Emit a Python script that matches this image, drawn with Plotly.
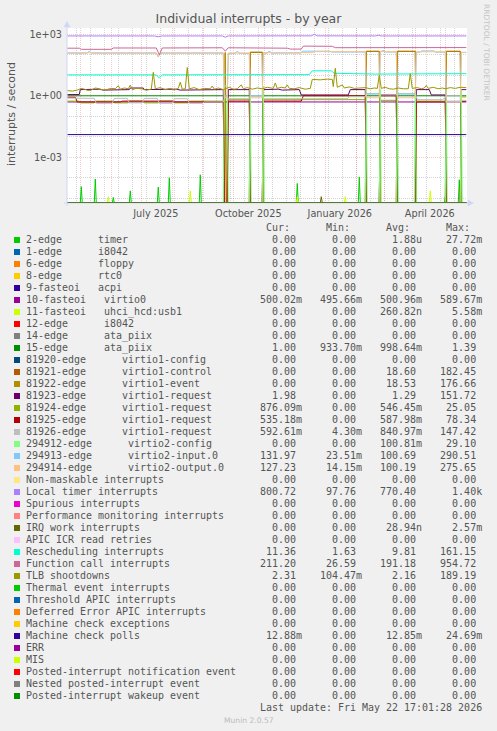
import plotly.graph_objects as go
import pandas as pd

X_START = '2025-04-17 17:00'
X_END = '2026-05-22 17:00'

# ---------------- legend data ----------------
labels = [
    '2-edge      timer', '1-edge      i8042', '6-edge      floppy', '8-edge      rtc0',
    '9-fasteoi   acpi', '10-fasteoi   virtio0', '11-fasteoi   uhci_hcd:usb1',
    '12-edge      i8042', '14-edge      ata_piix', '15-edge      ata_piix',
    '81920-edge      virtio1-config', '81921-edge      virtio1-control',
    '81922-edge      virtio1-event', '81923-edge      virtio1-request',
    '81924-edge      virtio1-request', '81925-edge      virtio1-request',
    '81926-edge      virtio1-request', '294912-edge      virtio2-config',
    '294913-edge      virtio2-input.0', '294914-edge      virtio2-output.0',
    'Non-maskable interrupts', 'Local timer interrupts', 'Spurious interrupts',
    'Performance monitoring interrupts', 'IRQ work interrupts', 'APIC ICR read retries',
    'Rescheduling interrupts', 'Function call interrupts', 'TLB shootdowns',
    'Thermal event interrupts', 'Threshold APIC interrupts',
    'Deferred Error APIC interrupts', 'Machine check exceptions', 'Machine check polls',
    'ERR', 'MIS', 'Posted-interrupt notification event', 'Nested posted-interrupt event',
    'Posted-interrupt wakeup event']

colors = [
    '#00CC00', '#0066B3', '#FF8000', '#FFCC00', '#330099', '#990099', '#CCFF00',
    '#FF0000', '#808080', '#008F00', '#00487D', '#B35A00', '#B38F00', '#6B006B',
    '#8FB300', '#B30000', '#BEBEBE', '#80FF80', '#80C9FF', '#FFC080', '#FFE680',
    '#AA80FF', '#EE00CC', '#FF8080', '#666600', '#FFBFFF', '#00FFCC', '#CC6699',
    '#999900', '#00CC00', '#0066B3', '#FF8000', '#FFCC00', '#330099', '#990099',
    '#CCFF00', '#FF0000', '#808080', '#008F00']

cur_vals = ['0.00', '0.00', '0.00', '0.00', '0.00', '500.02m', '0.00', '0.00', '0.00', '1.00',
            '0.00', '0.00', '0.00', '1.98', '876.09m', '535.18m', '592.61m', '0.00', '131.97',
            '127.23', '0.00', '800.72', '0.00', '0.00', '0.00', '0.00', '11.36', '211.20',
            '2.31', '0.00', '0.00', '0.00', '0.00', '12.88m', '0.00', '0.00', '0.00', '0.00',
            '0.00']
min_vals = ['0.00', '0.00', '0.00', '0.00', '0.00', '495.66m', '0.00', '0.00', '0.00',
            '933.70m', '0.00', '0.00', '0.00', '0.00', '0.00', '0.00', '4.30m', '0.00',
            '23.51m', '14.15m', '0.00', '97.76', '0.00', '0.00', '0.00', '0.00', '1.63',
            '26.59', '104.47m', '0.00', '0.00', '0.00', '0.00', '0.00', '0.00', '0.00',
            '0.00', '0.00', '0.00']
avg_vals = ['1.88u', '0.00', '0.00', '0.00', '0.00', '500.96m', '260.82n', '0.00', '0.00',
            '998.64m', '0.00', '18.60', '18.53', '1.29', '546.45m', '587.98m', '840.97m',
            '100.81m', '100.69', '100.19', '0.00', '770.40', '0.00', '0.00', '28.94n', '0.00',
            '9.81', '191.18', '2.16', '0.00', '0.00', '0.00', '0.00', '12.85m', '0.00',
            '0.00', '0.00', '0.00', '0.00']
max_vals = ['27.72m', '0.00', '0.00', '0.00', '0.00', '589.67m', '5.58m', '0.00', '0.00',
            '1.39', '0.00', '182.45', '176.66', '151.72', '25.05', '78.34', '147.42', '29.10',
            '290.51', '275.65', '0.00', '1.40k', '0.00', '0.00', '2.57m', '0.00', '161.15',
            '954.72', '189.19', '0.00', '0.00', '0.00', '0.00', '24.69m', '0.00', '0.00',
            '0.00', '0.00', '0.00']

last_update = 'Last update: Fri May 22 17:01:28 2026'

# ---------------- time series (daily averages) ----------------
zero_dates = ['2025-04-18', '2026-05-22']
zero_vals = [0, 0]

timer_dates = ['2025-04-18', '2025-05-01', '2025-05-02', '2025-05-03', '2025-05-15', '2025-05-16',
               '2025-05-17', '2025-06-02', '2025-06-03', '2025-06-04', '2025-06-19', '2025-06-20',
               '2025-06-21', '2025-07-17', '2025-07-18', '2025-07-19', '2025-07-28', '2025-07-29',
               '2025-07-30', '2025-08-28', '2025-08-29', '2025-08-30', '2025-12-03', '2025-12-04',
               '2025-12-05', '2026-02-03', '2026-02-04', '2026-02-05', '2026-04-30', '2026-05-01',
               '2026-05-02', '2026-05-14', '2026-05-15', '2026-05-16', '2026-05-22']
timer_vals = [0, 0, 3.7e-5, 0, 0, 8.7e-5, 0, 0, 1.1e-5, 0, 0, 2.3e-5, 0, 0, 3.5e-5, 0, 0, 1.0e-4,
              0, 0, 1.4e-4, 0, 0, 5.3e-5, 0, 0, 1.1e-4, 0, 0, 1.2e-5, 0, 0, 8.0e-5, 0, 0]

usb_dates = ['2025-04-18', '2025-05-28', '2025-05-29', '2025-05-30', '2025-08-18', '2025-08-19',
             '2025-08-20', '2025-12-03', '2025-12-04', '2025-12-05', '2026-01-20', '2026-01-21',
             '2026-01-22', '2026-04-15', '2026-04-16', '2026-04-17', '2026-05-22']
usb_vals = [0, 0, 1.2e-5, 0, 0, 2.3e-5, 0, 0, 1.2e-5, 0, 0, 1.2e-5, 0, 0, 2.3e-5, 0, 0]

irqwork_dates = ['2025-04-18', '2025-12-27', '2025-12-28', '2025-12-29', '2026-05-22']
irqwork_vals = [0, 0, 1.2e-5, 0, 0]

virtio0_dates = ['2025-04-18', '2026-05-22']
virtio0_vals = [0.5, 0.5]

ata15_dates = ['2025-04-18', '2026-05-22']
ata15_vals = [1.0, 1.0]

mcpoll_dates = ['2025-04-18', '2026-05-22']
mcpoll_vals = [0.0128, 0.0128]

box_dates = ['2025-04-18', '2025-09-22', '2025-09-23', '2025-09-24', '2025-10-17', '2025-10-18',
             '2025-10-30', '2025-10-31', '2026-02-10', '2026-02-11', '2026-02-24', '2026-02-25',
             '2026-03-13', '2026-03-14', '2026-04-01', '2026-04-02', '2026-05-01', '2026-05-02',
             '2026-05-16', '2026-05-17', '2026-05-22']
control_vals = [0, 0, 125, 0, 0, 130, 130, 0, 0, 145, 145, 0, 0, 145, 145, 0, 0, 145, 145, 0, 0]
event_vals = [0, 0, 130, 0, 0, 135, 135, 0, 0, 150, 150, 0, 0, 150, 150, 0, 0, 150, 150, 0, 0]

req23_dates = ['2025-04-18', '2025-04-30', '2025-05-01', '2025-05-20', '2025-05-24', '2025-06-19',
               '2025-06-20', '2025-07-03', '2025-07-04', '2025-08-05', '2025-08-09', '2025-09-21',
               '2025-09-22', '2025-09-25', '2025-09-26', '2025-10-17', '2025-10-18', '2025-10-30',
               '2025-10-31', '2025-11-15', '2025-11-19', '2025-12-06', '2025-12-08', '2026-01-24',
               '2026-01-26', '2026-02-10', '2026-02-11', '2026-02-24', '2026-02-25', '2026-03-13',
               '2026-03-14', '2026-04-01', '2026-04-02', '2026-04-15', '2026-04-17', '2026-05-01',
               '2026-05-02', '2026-05-16', '2026-05-17', '2026-05-22']
req23_vals = [1.15, 1.15, 2.0, 2.1, 1.9, 2.0, 2.4, 2.4, 2.0, 2.1, 1.9, 2.0, 0, 0, 2.0, 2.0, 0, 0,
              2.0, 2.1, 1.9, 2.0, 1.1, 1.1, 2.0, 2.0, 0, 0, 1.1, 1.1, 0, 0, 2.0, 2.0, 1.1, 1.1,
              0, 0, 2.0, 2.0]

req24_dates = ['2025-04-18', '2025-04-30', '2025-05-01', '2025-05-15', '2025-05-16', '2025-06-03',
               '2025-06-04', '2025-06-18', '2025-06-19', '2025-07-03', '2025-07-04', '2025-07-18',
               '2025-07-19', '2025-08-02', '2025-08-03', '2025-08-17', '2025-08-18', '2025-09-21',
               '2025-09-22', '2025-09-25', '2025-09-26', '2025-10-17', '2025-10-18', '2025-10-30',
               '2025-10-31', '2026-02-10', '2026-02-11', '2026-02-24', '2026-02-25', '2026-03-13',
               '2026-03-14', '2026-04-01', '2026-04-02', '2026-05-01', '2026-05-02', '2026-05-16',
               '2026-05-17', '2026-05-22']
req24_vals = [0.55, 0.55, 0.45, 0.45, 0.55, 0.55, 0.45, 0.45, 0.55, 0.55, 0.45, 0.45, 0.55, 0.55,
              0.45, 0.45, 0.55, 0.55, 0, 0, 0.65, 0.65, 0, 0, 0.65, 0.65, 0, 0, 0.6, 0.6, 0, 0,
              0.55, 0.55, 0, 0, 0.88, 0.88]

req25_dates = ['2025-04-18', '2025-04-26', '2025-04-28', '2025-06-10', '2025-06-12', '2025-08-01',
               '2025-08-03', '2025-09-21', '2025-09-22', '2025-09-25', '2025-09-26', '2025-10-17',
               '2025-10-18', '2025-10-30', '2025-10-31', '2025-12-08', '2025-12-10', '2026-02-10',
               '2026-02-11', '2026-02-24', '2026-02-25', '2026-03-13', '2026-03-14', '2026-04-01',
               '2026-04-02', '2026-05-01', '2026-05-02', '2026-05-16', '2026-05-17', '2026-05-22']
req25_vals = [0.85, 0.85, 0.5, 0.5, 0.55, 0.55, 0.5, 0.5, 0, 0, 0.55, 0.55, 0, 0, 0.55, 0.55, 1.0,
              1.0, 0, 0, 1.0, 1.0, 0, 0, 0.5, 0.5, 0, 0, 0.54, 0.54]

req26_dates = ['2025-04-18', '2025-05-15', '2025-05-17', '2025-06-02', '2025-06-04', '2025-06-17',
               '2025-06-19', '2025-07-02', '2025-07-04', '2025-07-17', '2025-07-19', '2025-08-01',
               '2025-08-03', '2025-08-16', '2025-08-18', '2025-08-31', '2025-09-02', '2025-09-21',
               '2025-09-23', '2025-09-26', '2025-10-17', '2025-10-18', '2025-10-30', '2025-10-31',
               '2026-01-23', '2026-01-25', '2026-02-10', '2026-02-11', '2026-02-24', '2026-02-25',
               '2026-03-13', '2026-03-14', '2026-04-01', '2026-04-03', '2026-04-28', '2026-05-01',
               '2026-05-02', '2026-05-16', '2026-05-17', '2026-05-22']
req26_vals = [0.77, 0.75, 0.43, 0.43, 0.75, 0.75, 0.45, 0.45, 0.75, 0.75, 0.43, 0.43, 0.72, 0.72,
              0.43, 0.43, 0.5, 0.5, 0.9, 0.72, 0.72, 1.0, 1.0, 0.72, 0.72, 0.9, 0.9, 1.3, 1.3, 1.1,
              1.1, 1.3, 1.3, 0.65, 0.65, 0.8, 1.0, 1.0, 0.6, 0.6]

v2config_dates = ['2025-04-18', '2025-09-21', '2025-09-22', '2025-09-25', '2025-09-26',
                  '2025-10-17', '2025-10-18', '2025-10-19', '2025-10-30', '2025-10-31',
                  '2025-11-01', '2026-02-10', '2026-02-11', '2026-02-12', '2026-02-24',
                  '2026-02-25', '2026-02-26', '2026-03-13', '2026-03-14', '2026-03-15',
                  '2026-03-31', '2026-04-01', '2026-04-02', '2026-05-01', '2026-05-02',
                  '2026-05-03', '2026-05-16', '2026-05-17', '2026-05-18', '2026-05-22']
v2config_vals = [0, 0, 3, 3, 0, 0, 2, 0, 0, 3, 0, 0, 2, 0, 0, 2, 0, 0, 2, 0, 0, 2, 0, 0, 2, 0, 0,
                 2, 0, 0]

v2in_dates = ['2025-04-18', '2025-05-08', '2025-05-09', '2025-05-11', '2025-05-12', '2025-07-16',
              '2025-07-18', '2025-07-20', '2025-09-21', '2025-09-22', '2025-09-25', '2025-09-26',
              '2025-10-03', '2025-10-04', '2025-10-06', '2025-10-07', '2025-10-17', '2025-10-18',
              '2025-10-30', '2025-10-31', '2025-11-04', '2025-11-05', '2025-11-07', '2025-11-08',
              '2025-12-08', '2025-12-09', '2026-01-06', '2026-01-07', '2026-02-10', '2026-02-11',
              '2026-02-24', '2026-02-25', '2026-02-27', '2026-03-01', '2026-03-02', '2026-03-13',
              '2026-03-14', '2026-04-01', '2026-04-02', '2026-04-06', '2026-04-07', '2026-04-20',
              '2026-04-21', '2026-05-01', '2026-05-02', '2026-05-16', '2026-05-17', '2026-05-22']
v2in_vals = [120, 120, 140, 140, 120, 120, 78, 120, 120, 1.0, 1.0, 118, 118, 140, 140, 118, 118,
             1.0, 1.0, 120, 120, 142, 142, 120, 122, 150, 150, 136, 136, 1.2, 1.2, 136, 160, 160,
             136, 136, 1.2, 1.2, 134, 134, 155, 155, 134, 134, 0.55, 0.55, 132, 132]

v2out_dates = ['2025-04-18', '2025-07-16', '2025-07-18', '2025-07-20', '2025-09-21', '2025-09-22',
               '2025-09-25', '2025-09-26', '2025-10-17', '2025-10-18', '2025-10-30', '2025-10-31',
               '2025-12-18', '2025-12-22', '2026-02-10', '2026-02-11', '2026-02-24', '2026-02-25',
               '2026-03-13', '2026-03-14', '2026-04-01', '2026-04-02', '2026-05-01', '2026-05-02',
               '2026-05-16', '2026-05-17', '2026-05-22']
v2out_vals = [126, 126, 80, 126, 126, 0.8, 0.8, 122, 122, 0.8, 0.8, 126, 128, 142, 142, 0.8, 0.8,
              142, 142, 0.8, 0.8, 140, 140, 0.5, 0.5, 130, 130]

loc_dates = ['2025-04-18', '2025-05-10', '2025-05-12', '2025-05-14', '2025-07-14', '2025-07-18',
             '2025-07-22', '2025-09-20', '2025-09-23', '2025-09-26', '2025-12-18', '2025-12-21',
             '2025-12-24', '2026-02-20', '2026-02-23', '2026-02-26', '2026-05-22']
loc_vals = [830, 830, 780, 830, 830, 760, 830, 830, 720, 830, 840, 1000, 840, 830, 900, 830, 830]

resched_dates = ['2025-04-18', '2025-07-16', '2025-07-19', '2025-07-22', '2025-12-16',
                 '2025-12-19', '2026-01-07', '2026-01-10', '2026-02-20', '2026-05-22']
resched_vals = [10.5, 10.5, 7.3, 10.5, 10.8, 16.5, 16.5, 12.5, 11.5, 12.0]

fcall_dates = ['2025-04-18', '2025-04-30', '2025-05-02', '2025-06-01', '2025-06-03', '2025-07-16',
               '2025-07-19', '2025-07-22', '2025-09-20', '2025-09-23', '2025-09-26', '2025-11-24',
               '2025-11-27', '2025-12-08', '2025-12-10', '2026-01-08', '2026-01-11', '2026-05-22']
fcall_vals = [210, 210, 185, 185, 215, 215, 100, 215, 220, 150, 220, 210, 190, 190, 265, 260, 222,
              225]

tlb_dates = ['2025-04-18', '2025-04-23', '2025-04-28', '2025-05-02', '2025-05-05', '2025-05-09',
             '2025-05-12', '2025-05-16', '2025-05-20', '2025-05-24', '2025-05-27', '2025-06-01',
             '2025-06-05', '2025-06-08', '2025-06-10', '2025-06-14', '2025-06-18', '2025-06-20',
             '2025-06-22', '2025-06-26', '2025-07-01', '2025-07-06', '2025-07-11', '2025-07-13',
             '2025-07-15', '2025-07-20', '2025-07-25', '2025-07-30', '2025-08-03', '2025-08-07',
             '2025-08-09', '2025-08-11', '2025-08-14', '2025-08-16', '2025-08-18', '2025-08-23',
             '2025-08-28', '2025-09-02', '2025-09-08', '2025-09-10', '2025-09-12', '2025-09-16',
             '2025-09-21', '2025-09-27', '2025-10-01', '2025-10-05', '2025-10-09', '2025-10-11',
             '2025-10-15', '2025-10-20', '2025-10-25', '2025-10-30', '2025-11-04', '2025-11-10',
             '2025-11-12', '2025-11-14', '2025-11-18', '2025-11-22', '2025-11-24', '2025-11-26',
             '2025-12-01', '2025-12-06', '2025-12-12', '2025-12-17', '2025-12-19', '2025-12-27',
             '2026-01-03', '2026-01-08', '2026-01-09', '2026-01-11', '2026-01-13', '2026-01-18',
             '2026-01-20', '2026-01-25', '2026-01-30', '2026-02-05', '2026-02-10', '2026-02-15',
             '2026-02-19', '2026-02-22', '2026-02-24', '2026-02-26', '2026-03-02', '2026-03-06',
             '2026-03-10', '2026-03-15', '2026-03-20', '2026-03-25', '2026-03-27', '2026-03-29',
             '2026-04-03', '2026-04-07', '2026-04-10', '2026-04-12', '2026-04-14', '2026-04-19',
             '2026-04-24', '2026-04-28', '2026-05-01', '2026-05-06', '2026-05-11', '2026-05-16',
             '2026-05-22']
tlb_vals = [1.8, 1.7, 1.9, 2.3, 2.1, 1.8, 1.9, 2.4, 2.2, 1.9, 2.0, 2.3, 2.2, 3.1, 2.1, 2.4, 2.2,
            3.3, 2.0, 2.3, 2.2, 1.9, 2.1, 14, 2.2, 2.5, 2.0, 2.3, 1.9, 2.3, 4.6, 2.1, 2.2, 24, 2.2,
            2.5, 2.0, 2.3, 2.2, 3.0, 2.1, 2.4, 2.0, 2.6, 2.1, 2.2, 3.4, 2.2, 2.5, 2.1, 2.4, 2.2,
            2.6, 2.3, 4.2, 2.3, 2.6, 2.4, 3.4, 2.3, 2.2, 2.5, 2.1, 2.3, 6.3, 6.0, 6.5, 6.3, 2.8,
            22, 2.6, 3.4, 2.4, 2.7, 2.3, 2.3, 2.5, 2.2, 2.4, 2.3, 10, 2.3, 2.6, 2.2, 2.1, 2.4, 2.2,
            2.2, 12, 2.3, 2.5, 2.2, 2.4, 3.2, 2.3, 2.6, 2.2, 2.4, 2.2, 2.5, 2.3, 2.6, 2.5]

series = [
    (timer_dates, timer_vals), (zero_dates, zero_vals), (zero_dates, zero_vals),
    (zero_dates, zero_vals), (zero_dates, zero_vals), (virtio0_dates, virtio0_vals),
    (usb_dates, usb_vals), (zero_dates, zero_vals), (zero_dates, zero_vals),
    (ata15_dates, ata15_vals), (zero_dates, zero_vals), (box_dates, control_vals),
    (box_dates, event_vals), (req23_dates, req23_vals), (req24_dates, req24_vals),
    (req25_dates, req25_vals), (req26_dates, req26_vals), (v2config_dates, v2config_vals),
    (v2in_dates, v2in_vals), (v2out_dates, v2out_vals), (zero_dates, zero_vals),
    (loc_dates, loc_vals), (zero_dates, zero_vals), (zero_dates, zero_vals),
    (irqwork_dates, irqwork_vals), (zero_dates, zero_vals), (resched_dates, resched_vals),
    (fcall_dates, fcall_vals), (tlb_dates, tlb_vals), (zero_dates, zero_vals),
    (zero_dates, zero_vals), (zero_dates, zero_vals), (zero_dates, zero_vals),
    (mcpoll_dates, mcpoll_vals), (zero_dates, zero_vals), (zero_dates, zero_vals),
    (zero_dates, zero_vals), (zero_dates, zero_vals), (zero_dates, zero_vals)]

x_label_dates = ['2025-07-15 12:00', '2025-10-16', '2026-01-15 12:00', '2026-04-15 12:00']
x_label_text = ['July 2025', 'October 2025', 'January 2026', 'April 2026']
y_tick_vals = [1e3, 1, 1e-3]
y_tick_text = ['1e+03', '1e+00', '1e-03']

# ---------------- geometry ----------------
W, H = 497, 731
PL, PR, PT, PB = 67, 467, 28, 203
Y_RANGE = [-5.23, 3.307]
FLOOR = 10 ** Y_RANGE[0]

def px(xp):
    return (xp - PL) / (PR - PL)

def py(yp):
    return (PB - yp) / (PB - PT)

TXT = '#555555'
MONO = 'DejaVu Sans Mono'
SANS = 'DejaVu Sans'
MAJ = 'rgba(240,110,110,0.38)'
MIN = 'rgba(160,160,160,0.45)'

fig = go.Figure()
for i, (d, v) in enumerate(series):
    yv = [val if val > 0 else FLOOR for val in v]
    fig.add_trace(go.Scatter(
        x=d, y=yv, mode='lines', line=dict(color=colors[i], width=1),
        xaxis='x2' if i == 33 else 'x', hoverinfo='skip', showlegend=False))

month_starts = pd.date_range('2025-05-01', '2026-05-01', freq='MS')
biweekly = pd.date_range('2025-04-27', '2026-05-22', freq='14D')

fig.update_layout(
    width=W, height=H, autosize=False,
    margin=dict(l=PL, r=W - PR, t=PT, b=H - PB, pad=0),
    paper_bgcolor='#F0F0F0', plot_bgcolor='#FFFFFF', showlegend=False,
    title=dict(text='Individual interrupts - by year', x=0.5, xref='container', xanchor='center',
               y=1 - 19 / H, yref='container', yanchor='middle',
               font=dict(family=SANS, size=12.5, color=TXT)),
    xaxis=dict(type='date', range=[X_START, X_END], tickmode='array', tickvals=list(month_starts),
               showticklabels=False, ticks='', showgrid=True, gridcolor=MAJ,
               griddash='1px,1px', gridwidth=1, showline=False, zeroline=False,
               minor=dict(tickmode='array', tickvals=list(biweekly), showgrid=True,
                          gridcolor=MIN, griddash='1px,1px', gridwidth=1)),
    xaxis2=dict(type='date', overlaying='x', matches='x', anchor='y', side='bottom',
                range=[X_START, X_END], tickmode='array', tickvals=x_label_dates,
                ticktext=x_label_text, showgrid=False, ticks='', showline=False, zeroline=False,
                tickfont=dict(family=SANS, size=9.7, color=TXT), ticklabelstandoff=3),
    yaxis=dict(type='log', range=Y_RANGE, tickmode='array', tickvals=y_tick_vals,
               ticktext=y_tick_text, showgrid=True, gridcolor=MAJ,
               griddash='1px,1px', gridwidth=1, ticks='', showline=False, zeroline=False,
               tickfont=dict(family=SANS, size=9.7, color=TXT), ticklabelstandoff=4,
               minor=dict(tickmode='array', tickvals=[1e2, 1e1, 1e-1, 1e-2, 1e-4, 1e-5],
                          showgrid=True, gridcolor=MIN, griddash='1px,1px', gridwidth=1)),
)

AX = '#CFD6F8'
shapes = [
    dict(type='line', xref='paper', yref='paper', x0=px(64), x1=px(470), y0=py(PB), y1=py(PB),
         line=dict(color=AX, width=1), layer='below'),
    dict(type='line', xref='paper', yref='paper', x0=px(PL), x1=px(PL), y0=py(206), y1=py(24),
         line=dict(color=AX, width=1), layer='above'),
    dict(type='path', xref='paper', yref='paper', fillcolor=AX, line=dict(color=AX, width=0.5),
         path=f'M {px(PL - 3)},{py(27)} L {px(PL)},{py(21.5)} L {px(PL + 3)},{py(27)} Z',
         layer='above'),
    dict(type='path', xref='paper', yref='paper', fillcolor=AX, line=dict(color=AX, width=0.5),
         path=f'M {px(468)},{py(PB - 3)} L {px(473.5)},{py(PB)} L {px(468)},{py(PB + 3)} Z',
         layer='above'),
]

annotations = [
    dict(text='interrupts / second', textangle=-90, xref='paper', yref='paper', x=px(11),
         y=py(114), xanchor='center', yanchor='middle', showarrow=False,
         font=dict(family=SANS, size=11, color=TXT)),
    dict(text='RRDTOOL / TOBI OETIKER', textangle=90, xref='paper', yref='paper', x=px(487),
         y=py(52), xanchor='center', yanchor='middle', showarrow=False,
         font=dict(family=SANS, size=7.5, color='#C4C4C4')),
    dict(text='Munin 2.0.57', xref='paper', yref='paper', x=px(248.5), y=py(720),
         xanchor='center', yanchor='middle', showarrow=False,
         font=dict(family=SANS, size=7.6, color='#BBBBBB')),
]

ROW0 = 239.5
ROWH = 12.0
TX = 24


def fmt(v):
    return (v if v[-1].isalpha() else v + ' ').rjust(10)


def nb(s):
    return s.replace(' ', '\u00a0')

header = ' ' * 40 + 'Cur:' + ' ' * 6 + 'Min:' + ' ' * 6 + 'Avg:' + ' ' * 6 + 'Max:'
annotations.append(dict(text=nb(header), xref='paper', yref='paper', x=px(TX), y=py(ROW0 - ROWH),
                        xanchor='left', yanchor='middle', showarrow=False,
                        font=dict(family=MONO, size=9.97, color=TXT)))
for i, lab in enumerate(labels):
    row = lab.ljust(36) + fmt(cur_vals[i]) + fmt(min_vals[i]) + fmt(avg_vals[i]) + fmt(max_vals[i])
    yc = ROW0 + ROWH * i
    annotations.append(dict(text=nb(row), xref='paper', yref='paper', x=px(TX), y=py(yc),
                            xanchor='left', yanchor='middle', showarrow=False,
                            font=dict(family=MONO, size=9.97, color=TXT)))
    shapes.append(dict(type='rect', xref='paper', yref='paper', x0=px(14), x1=px(20),
                       y0=py(yc + 0.5 + 3), y1=py(yc + 0.5 - 3), fillcolor=colors[i],
                       line=dict(width=0), layer='above'))

annotations.append(dict(text=nb(last_update.rjust(76)), xref='paper', yref='paper', x=px(TX),
                        y=py(ROW0 + ROWH * 39), xanchor='left', yanchor='middle',
                        showarrow=False, font=dict(family=MONO, size=9.97, color=TXT)))

fig.update_layout(shapes=shapes, annotations=annotations)
fig.write_html('out.html', config={'displayModeBar': False},
               post_script="document.body.style.margin='0';")
